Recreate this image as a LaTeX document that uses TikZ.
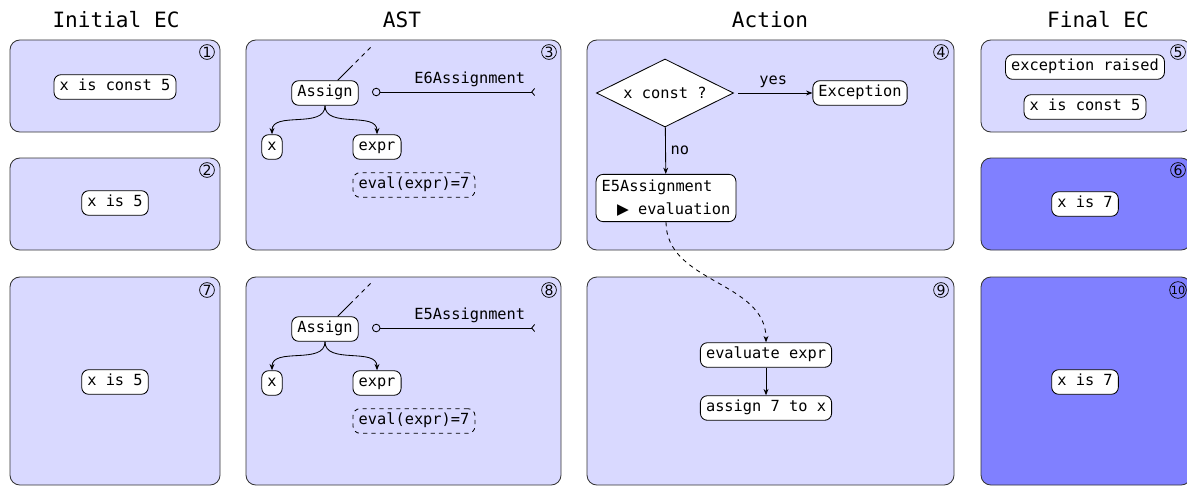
\documentclass[tikz,border=0pt]{standalone}
\usepackage{fontspec}
\setmonofont{DejaVu Sans Mono}
\newfontfamily\symfont{DejaVu Sans}
\usetikzlibrary{arrows.meta,positioning,shapes.geometric}
\definecolor{pale}{HTML}{D9D9FF}
\definecolor{deep}{HTML}{8080FF}
\definecolor{rim}{HTML}{333333}

\begin{document}
\begin{tikzpicture}[x=0.025cm,y=-0.025cm,
   font=\ttfamily\fontsize{10.9}{13}\selectfont,
   panel/.style={draw=rim,fill=pale,rounded corners=7pt,line width=0.6pt},
   hot/.style={panel,fill=deep},
   b/.style={draw,fill=white,rounded corners=5pt,line width=0.6pt,
     inner xsep=4pt,inner ysep=3.5pt,text height=8pt,text depth=2.5pt},
   ghost/.style={b,dashed,fill=none},
   dia/.style={diamond,aspect=2,draw,fill=white,line width=0.6pt,inner sep=0pt,
     minimum width=3.425cm,minimum height=1.7cm},
   num/.style={circle,draw,line width=0.5pt,inner sep=0pt,minimum size=0.37cm,
     font=\symfont\fontsize{10}{10}\selectfont},
   head/.style={font=\ttfamily\fontsize{15}{18}\selectfont},
   a/.style={-{Stealth[length=4.5pt,width=3.5pt]},line width=0.6pt}]
  \useasboundingbox (0,0) rectangle (1187,486);

  % column titles
  \node[head] (t1) at (116,20) {Initial EC};
  \node[head] (t2) at (402,20) {AST};
  \node[head] (t3) at (770,20) {Action};
  \node[head] (t4) at (1098,20) {Final EC};

  % panels
  \draw[panel] (10,40) rectangle (220,132);
  \draw[panel] (10,158) rectangle (220,250);
  \draw[panel] (10,277) rectangle (220,485);
  \draw[panel] (246,40) rectangle (561,250);
  \draw[panel] (246,277) rectangle (561,485);
  \draw[panel] (587,40) rectangle (954,250);
  \draw[panel] (587,277) rectangle (954,485);
  \draw[panel] (981,40) rectangle (1191,132);
  \draw[hot] (981,158) rectangle (1191,250);
  \draw[hot] (981,277) rectangle (1191,485);

  \node[num] (n1) at (207,52) {1};
  \node[num] (n2) at (207,170) {2};
  \node[num] (n3) at (549,52) {3};
  \node[num] (n4) at (941,52) {4};
  \node[num] (n5) at (1178,52) {5};
  \node[num] (n6) at (1178,170) {6};
  \node[num] (n7) at (207,290) {7};
  \node[num] (n8) at (549,290) {8};
  \node[num] (n9) at (941,290) {9};
  \node[num,font=\symfont\fontsize{8}{8}\selectfont] (n10) at (1178,290) {10};

  % initial state
  \node[b] (i1) at (115,87) {x is const 5};
  \node[b] (i2) at (115,203) {x is 5};
  \node[b] (i3) at (115,382) {x is 5};

  % AST, once per rule
  \foreach \dy/\lbl/\k in {0/E6Assignment/3,236/E5Assignment/8}{
    \begin{scope}[shift={(0,\dy)}]
      \node[b] (as\k) at (325,93) {Assign};
      \node[b] (x\k) at (272,147) {x};
      \node[b] (ex\k) at (377,147) {expr};
      \node[ghost] (ev\k) at (414,185) {eval(expr)=7};
      \coordinate (up\k) at (373,45);
      \coordinate (rs\k) at (372,92);
      \coordinate (re\k) at (535,92);
      \draw[line width=0.6pt,dash pattern=on 15pt off 3pt on 3pt off 3pt on 3pt off 3pt on 3pt]
        (as\k) -- (up\k);
      \draw[line width=0.6pt,{Circle[open,length=6pt]}-{Straight Barb[reversed,length=2pt,width=5pt]}]
        (rs\k) -- node[above,pos=0.6]{\lbl} (re\k);
      \draw[a] (as\k.south) to[out=-90,in=90] (x\k.north);
      \draw[a] (as\k.south) to[out=-90,in=90] (ex\k.north);
    \end{scope}
  }

  % action
  \node[dia] (q) at (665,93) {x const ?};
  \node[b] (exc) at (860,93) {Exception};
  \node[b,align=left,text height={},text depth={},inner ysep=4pt] (e5) at (666,198)
    {E5Assignment\\[3pt]\quad{\symfont ▶} evaluation};
  \node[b] (evx) at (766,355) {evaluate expr};
  \node[b] (asg) at (766,408) {assign 7 to x};
  \draw[a,shorten <=3pt] (q) -- node[above]{yes} (exc);
  \draw[a] (q) -- node[right]{no} (e5);
  \draw[a,dashed] (e5.south) to[out=-90,in=90] (evx.north);
  \draw[a] (evx) -- (asg);

  % final state
  \node[b] (f1) at (1085,67) {exception raised};
  \node[b] (f2) at (1085,107) {x is const 5};
  \node[b] (f3) at (1085,204) {x is 7};
  \node[b] (f4) at (1085,382) {x is 7};
\end{tikzpicture}
\end{document}
